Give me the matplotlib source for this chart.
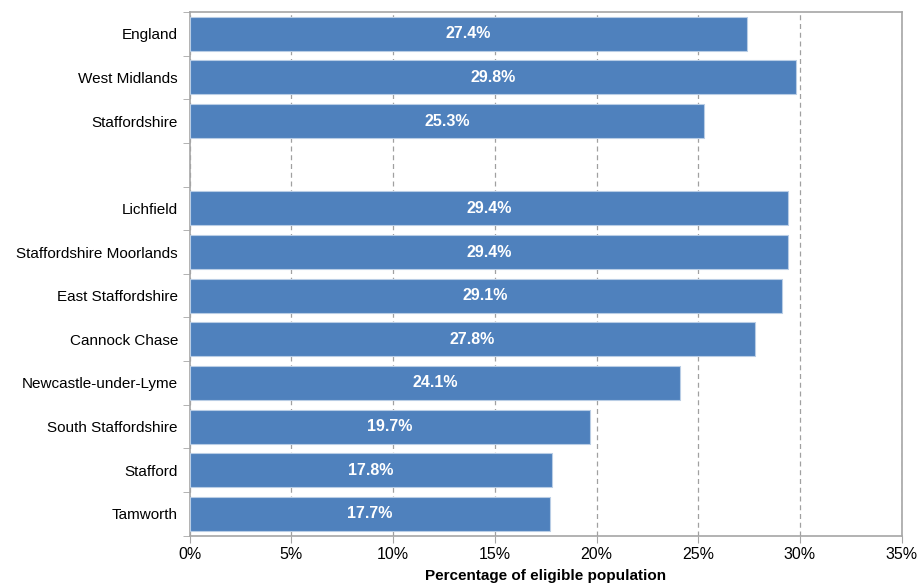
import matplotlib
matplotlib.use("Agg")

import matplotlib.pyplot as plt
import numpy as np

# Chart data (blank entry = gap between region and districts)
AREAS = [
    "England",
    "West Midlands",
    "Staffordshire",
    "",
    "Lichfield",
    "Staffordshire Moorlands",
    "East Staffordshire",
    "Cannock Chase",
    "Newcastle-under-Lyme",
    "South Staffordshire",
    "Stafford",
    "Tamworth",
]
PERCENTAGES = [27.4, 29.8, 25.3, None, 29.4, 29.4, 29.1, 27.8, 24.1, 19.7, 17.8, 17.7]
X_TICKS = [0, 5, 10, 15, 20, 25, 30, 35]

BAR_COLOR = "#4F81BD"
AXIS_GRAY = "#A6A6A6"

plt.rcParams["font.family"] = ["Liberation Sans", "DejaVu Sans"]


def main():
    fig = plt.figure(figsize=(9.19, 5.84), dpi=100)
    ax = fig.add_axes([0.2064, 0.0827, 0.7748, 0.8968])

    positions = np.arange(len(AREAS))
    for pos, value in zip(positions, PERCENTAGES):
        if value is None:
            continue
        ax.barh(pos, value, height=0.78, color=BAR_COLOR,
                edgecolor="#B9CDE5", linewidth=0.8, zorder=3)
        ax.text(value / 2, pos, f"{value:.1f}%", color="white",
                fontsize=11.5, fontweight="bold", ha="center", va="center",
                zorder=4)

    ax.set_xlim(0, 35)
    ax.set_ylim(len(AREAS) - 0.5, -0.5)

    ax.set_xticks(X_TICKS)
    ax.set_xticklabels([f"{t}%" for t in X_TICKS], fontsize=11.5)
    ax.set_yticks(positions)
    ax.set_yticklabels(AREAS, fontsize=11)
    ax.set_yticks(np.arange(-0.5, len(AREAS), 1.0), minor=True)

    ax.tick_params(axis="y", which="major", length=0, pad=8.5)
    ax.tick_params(axis="y", which="minor", length=5, color=AXIS_GRAY)
    ax.tick_params(axis="x", length=5, color=AXIS_GRAY, pad=3)

    ax.xaxis.grid(True, linestyle=(0, (4, 3)), color="#A0A0A0",
                  linewidth=0.9, zorder=0)

    for spine in ax.spines.values():
        spine.set_color(AXIS_GRAY)
        spine.set_linewidth(1.2)

    ax.set_xlabel("Percentage of eligible population", fontsize=11,
                  fontweight="bold", labelpad=5)

    fig.savefig("out.png", dpi=100)
    plt.close(fig)


if __name__ == "__main__":
    main()
